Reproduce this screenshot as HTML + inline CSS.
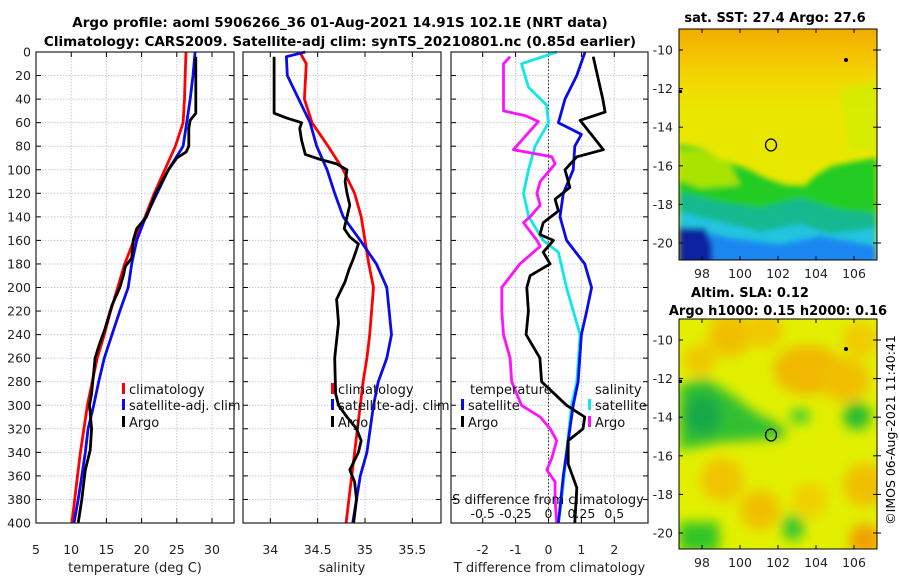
<!DOCTYPE html>
<html><head><meta charset="utf-8"><style>
html,body{margin:0;padding:0;background:#fff;}
svg{display:block;font-family:"DejaVu Sans","Liberation Sans",sans-serif;}
</style></head><body>
<svg id="fig" width="900" height="580" viewBox="0 0 900 580" xmlns="http://www.w3.org/2000/svg">
<defs>
<filter id="blur6" x="-20%" y="-20%" width="140%" height="140%"><feGaussianBlur stdDeviation="6"/></filter>
<filter id="blur3"><feGaussianBlur stdDeviation="3"/></filter>
<clipPath id="clipM1"><rect x="679" y="29" width="198" height="231"/></clipPath>
<clipPath id="clipM2"><rect x="679" y="319" width="198" height="230"/></clipPath>
<linearGradient id="sstTop" x1="0" y1="0" x2="0" y2="1">
<stop offset="0" stop-color="#f2ac00"/><stop offset="0.1" stop-color="#f4c000"/><stop offset="0.22" stop-color="#f2d800"/><stop offset="0.35" stop-color="#eae600"/><stop offset="1" stop-color="#e6ea00"/>
</linearGradient>
</defs>
<text x="340" y="27" text-anchor="middle" font-weight="bold" font-size="13.5">Argo profile: aoml 5906266_36 01-Aug-2021 14.91S 102.1E (NRT data)</text>
<text x="340" y="46" text-anchor="middle" font-weight="bold" font-size="13.5">Climatology: CARS2009. Satellite-adj clim: synTS_20210801.nc (0.85d earlier)</text>

<g>
<g clip-path="url(#clipM1)">
<rect x="679" y="29" width="198" height="231" fill="url(#sstTop)"/>
<g filter="url(#blur3)">
<path d="M679,145 L700,148 L720,160 L745,168 L765,178 L785,185 L805,186 L815,176 L832,166 L852,162 L877,158 L877,270 L679,270Z" fill="#22cc22"/>
<path d="M679,150 L700,150 L730,165 L740,185 L700,188 L679,180Z" fill="#a8e400"/>
<path d="M840,90 L877,80 L877,150 L850,150Z" fill="#cfee00" opacity="0.7"/>
<path d="M679,192 L720,202 L760,208 L800,198 L840,210 L877,214 L877,270 L679,270Z" fill="#14b890"/>
<path d="M679,212 L720,222 L760,232 L800,224 L830,234 L877,228 L877,270 L679,270Z" fill="#20c4e0"/>
<path d="M679,226 L730,238 L780,244 L820,236 L877,246 L877,270 L679,270Z" fill="#1a86f0"/>
<path d="M679,228 L705,228 L712,245 L712,270 L679,270Z" fill="#0820a0"/>
</g>
</g>
<rect x="679" y="29" width="198" height="231" fill="none" stroke="#000" stroke-width="1"/>
<ellipse cx="771" cy="145" rx="5.5" ry="6" fill="none" stroke="#000" stroke-width="1.3"/>
<circle cx="846" cy="60" r="2" fill="#000"/>
<rect x="679" y="90" width="3" height="3" fill="#000"/>
<text x="775" y="22" text-anchor="middle" font-weight="bold" font-size="13">sat. SST: 27.4 Argo: 27.6</text>
</g>

<g>
<g clip-path="url(#clipM2)">
<rect x="679" y="319" width="198" height="230" fill="#e2f000"/>
<g filter="url(#blur6)">
<circle cx="730" cy="335" r="22" fill="#f0c000"/>
<circle cx="765" cy="330" r="18" fill="#f0c800"/>
<circle cx="700" cy="360" r="16" fill="#f0c800"/>
<ellipse cx="808" cy="370" rx="35" ry="25" fill="#f0b800"/>
<ellipse cx="845" cy="380" rx="25" ry="22" fill="#f0c000"/>
<circle cx="860" cy="340" r="18" fill="#f0cc00"/>
<circle cx="722" cy="480" r="22" fill="#f0c400"/>
<circle cx="760" cy="510" r="20" fill="#f0c000"/>
<circle cx="865" cy="485" r="22" fill="#f0c000"/>
<circle cx="865" cy="540" r="16" fill="#f0a000"/>
<circle cx="810" cy="500" r="18" fill="#f0d000"/>
<path d="M679,385 L705,378 L728,392 L755,412 L785,428 L785,438 L755,440 L725,442 L679,450Z" fill="#30c030"/>
<ellipse cx="703" cy="415" rx="18" ry="20" fill="#18a848"/>
<ellipse cx="800" cy="416" rx="10" ry="8" fill="#40cc30"/>
<ellipse cx="857" cy="416" rx="14" ry="14" fill="#28bc30"/>
<rect x="679" y="522" width="40" height="30" fill="#30c428"/>
<ellipse cx="793" cy="528" rx="11" ry="13" fill="#38c430"/>
</g>
</g>
<rect x="679" y="319" width="198" height="230" fill="none" stroke="#000" stroke-width="1"/>
<ellipse cx="771" cy="435" rx="5.5" ry="6" fill="none" stroke="#000" stroke-width="1.3"/>
<circle cx="846" cy="349" r="2" fill="#000"/>
<rect x="679" y="380" width="3" height="3" fill="#000"/>
<text x="750" y="297" text-anchor="middle" font-weight="bold" font-size="13">Altim. SLA: 0.12</text>
<text x="778" y="315" text-anchor="middle" font-weight="bold" font-size="13">Argo h1000: 0.15 h2000: 0.16</text>
</g>
<text transform="translate(895,430) rotate(-90)" text-anchor="middle" font-size="12.5">©IMOS 06-Aug-2021 11:40:41</text>
<g id="plots"></g>
</svg>
<script>
const depthClim = [0,20,40,60,80,100,120,140,160,180,200,220,240,260,280,300,320,340,360,380,400];
const tempClim = [26.3,26.2,26.1,25.9,24.8,23.3,21.8,20.5,18.9,17.6,16.6,15.6,14.7,13.7,13.0,12.3,11.8,11.3,10.9,10.5,10.1];
const tempSat = [27.6,27.3,26.9,26.4,25.9,23.8,22.2,20.6,19.3,18.6,18.1,16.9,15.8,14.7,13.9,13.2,12.4,12.0,11.5,11.0,10.4];
const depthArgoT = [4,52,58,65,80,85,90,100,120,140,150,160,175,182,190,200,215,235,250,260,290,300,320,338,355,380,400];
const tempArgo = [27.7,27.7,26.9,26.7,26.7,26.3,25.0,23.8,22.0,20.7,19.3,18.8,18.6,17.7,17.4,16.9,15.8,14.8,13.9,13.4,12.9,12.6,12.9,12.7,12.0,11.5,11.0];
const salDepthClim = [0,10,40,60,80,100,120,140,160,180,200,240,260,280,300,340,360,400];
const salClim = [34.31,34.38,34.36,34.44,34.61,34.77,34.89,34.96,35.0,35.04,35.09,35.05,35.02,34.98,34.95,34.89,34.86,34.8];
const salDepthSat = [0,4,20,30,40,60,80,100,120,140,160,180,200,240,260,280,300,340,360,400];
const salSat = [34.37,34.17,34.18,34.24,34.3,34.42,34.49,34.6,34.68,34.77,34.95,35.12,35.23,35.28,35.23,35.14,35.09,35.02,34.95,34.87];
const salDepthArgo = [4,52,56,60,65,75,87,91,95,100,110,120,130,140,150,157,163,175,185,195,210,230,260,290,300,310,320,330,340,355,365,380,400];
const salArgo = [34.04,34.04,34.17,34.33,34.31,34.33,34.37,34.52,34.7,34.81,34.79,34.81,34.84,34.81,34.78,34.84,34.93,34.88,34.83,34.79,34.7,34.72,34.68,34.69,34.72,34.81,34.91,34.96,34.93,34.84,34.89,34.91,34.88];
const diffDepthTSat = [0,20,40,60,70,80,100,120,140,160,180,200,220,240,280,300,320,360,400];
const diffTSat = [1.11,0.86,0.5,0.3,1.0,0.8,0.75,0.45,0.35,0.55,1.1,1.31,1.16,1.0,0.9,0.75,0.65,0.45,0.3];
const diffDepthTArgo = [4,40,51,58,83,89,100,115,125,135,145,155,160,170,180,190,200,220,240,260,280,300,310,320,330,350,370,400];
const diffTArgo = [1.36,1.65,1.72,0.96,1.67,0.86,0.5,0.65,0.2,0.3,-0.16,-0.26,0.15,-0.16,0.05,-0.56,-0.66,-0.61,-0.68,-0.26,-0.21,0.55,1.1,1.05,0.6,0.6,0.86,0.8];
const diffDepthSSat = [0,10,30,45,60,80,100,120,140,160,170,200,240,280,300,340,380,400];
const diffSSat = [0.062,-0.205,-0.152,-0.015,0,-0.102,-0.152,-0.19,-0.15,-0.04,0.075,0.137,0.24,0.215,0.175,0.137,0.1,0.075];
const diffDepthSArgo = [4,10,50,54,59,83,89,95,100,110,120,130,140,145,160,165,180,200,220,240,260,280,300,310,320,330,345,355,365,380,400];
const diffSArgo = [-0.292,-0.342,-0.342,-0.177,-0.077,-0.267,0.025,0.05,0.013,-0.063,-0.088,-0.063,-0.14,-0.19,-0.088,-0.063,-0.217,-0.355,-0.355,-0.342,-0.292,-0.28,-0.205,-0.063,0.013,0.062,0.025,-0.013,0.05,0.05,0.062];
const depthTicks = [0,20,40,60,80,100,120,140,160,180,200,220,240,260,280,300,320,340,360,380,400];
const tempTicks = [5,10,15,20,25,30];
const salTicks = [34,34.5,35,35.5];
const salTickLabels = ["34","34.5","35","35.5"];
const diffTicks = [-2,-1,0,1,2];
const sDiffTicks = [-0.5,-0.25,0,0.25,0.5];
const sDiffLabels = ["-0.5","-0.25","0","0.25","0.5"];
const latTicks = [-10,-12,-14,-16,-18,-20];
const lonTicks = [98,100,102,104,106];

const NS = "http://www.w3.org/2000/svg";
const root = document.getElementById('plots');
function mk(tag, attrs, parent){const e=document.createElementNS(NS,tag);for(const k in attrs)e.setAttribute(k,attrs[k]);(parent||root).appendChild(e);return e;}
function txt(str, attrs, parent){const e=mk('text',attrs,parent);e.textContent=str;return e;}

const Y0=52, Y1=523;
const yScale = d => Y0 + d*(Y1-Y0)/400;
const panels = [
  {name:'temperature-panel', x0:36, x1:234, sx:v=>36+(v-5)*7.04, ticks:tempTicks, labels:tempTicks.map(String), title:'temperature (deg C)'},
  {name:'salinity-panel', x0:243, x1:441, sx:v=>270.3+(v-34)*94.7, ticks:salTicks, labels:salTickLabels, title:'salinity'},
  {name:'difference-panel', x0:451, x1:648, sx:v=>548.5+v*32.9, ticks:diffTicks, labels:diffTicks.map(String), title:'T difference from climatology'}
];
panels.forEach((p,pi)=>{
  const g = mk('g',{});
  
  
  depthTicks.forEach(d=>{
    mk('line',{x1:p.x0,x2:p.x1,y1:yScale(d),y2:yScale(d),stroke:'#c4c8e6','stroke-width':1,'stroke-dasharray':'1.5,1.5'},g);
    mk('line',{x1:p.x0,x2:p.x0+5,y1:yScale(d),y2:yScale(d),stroke:'#000'},g);
    mk('line',{x1:p.x1-5,x2:p.x1,y1:yScale(d),y2:yScale(d),stroke:'#000'},g);
  });
  p.ticks.forEach((t,i)=>{
    const x=p.sx(t);
    mk('line',{x1:x,x2:x,y1:Y0,y2:Y1,stroke:'#c4c8e6','stroke-width':1,'stroke-dasharray':'1.5,1.5'},g);
    mk('line',{x1:x,x2:x,y1:Y1-5,y2:Y1,stroke:'#000'},g);
    mk('line',{x1:x,x2:x,y1:Y0,y2:Y0+5,stroke:'#000'},g);
    const l=txt(p.labels[i],{x:x,y:554,'text-anchor':'middle','font-size':12.5,fill:'#222'},g);
    
    
  });
  const at=txt(p.title,{x:(p.x0+p.x1)/2,y:572,'text-anchor':'middle','font-size':13,fill:'#222'},g);
  
  
  p.g=g;
});
depthTicks.forEach(d=>{
  const l=txt(String(d),{x:31,y:yScale(d)+4.5,'text-anchor':'end','font-size':12.5,fill:'#222'});
  
  
});
mk('line',{x1:panels[2].sx(0),x2:panels[2].sx(0),y1:Y0,y2:Y1,stroke:'#333','stroke-width':1,'stroke-dasharray':'1.5,2'},panels[2].g);

function series(p, xs, ds, color, name, conv){
  const pts = xs.map((v,i)=>(conv?p.sx(conv(v)):p.sx(v)).toFixed(1)+','+yScale(ds[i]).toFixed(1)).join(' ');
  const l = mk('polyline',{points:pts,fill:'none',stroke:color,'stroke-width':2.8,'stroke-linejoin':'round'},p.g);
  
  
}
series(panels[0], tempClim, depthClim, '#ff0000', 'temp-climatology-line');
series(panels[0], tempSat, depthClim, '#0a0aee', 'temp-satellite-line');
series(panels[0], tempArgo, depthArgoT, '#000', 'temp-argo-line');
series(panels[1], salClim, salDepthClim, '#ff0000', 'sal-climatology-line');
series(panels[1], salSat, salDepthSat, '#0a0aee', 'sal-satellite-line');
series(panels[1], salArgo, salDepthArgo, '#000', 'sal-argo-line');
const sToT = v=>v*4;
series(panels[2], diffSSat, diffDepthSSat, '#10e8e8', 'sdiff-satellite-line', sToT);
series(panels[2], diffSArgo, diffDepthSArgo, '#ff10ff', 'sdiff-argo-line', sToT);
series(panels[2], diffTSat, diffDepthTSat, '#0a0aee', 'tdiff-satellite-line');
series(panels[2], diffTArgo, diffDepthTArgo, '#000', 'tdiff-argo-line');

panels.forEach(p=>{ mk('rect',{x:p.x0,y:Y0,width:p.x1-p.x0,height:Y1-Y0,fill:'none',stroke:'#222','stroke-width':1.2},p.g); });

const sd = txt('S difference from climatology',{x:548,y:504,'text-anchor':'middle','font-size':13,fill:'#111'},panels[2].g);


sDiffTicks.forEach((t,i)=>{
  const l=txt(sDiffLabels[i],{x:panels[2].sx(t*4),y:518,'text-anchor':'middle','font-size':12.5,fill:'#111'},panels[2].g);
  
  
});

function legend(x, y, color, label, name){
  const g=mk('g',{});
  
  
  if(color) mk('rect',{x:x,y:y-6,width:3,height:11,fill:color},g);
  txt(label,{x:x+7,y:y+5,'font-size':13,fill:'#111'},g);
}
legend(122,389,'#ff0000','climatology','legend-entry-climatology');
legend(122,405,'#0a0aee','satellite-adj. clim','legend-entry-satellite');
legend(122,422,'#000','Argo','legend-entry-argo');
legend(331,389,'#ff0000','climatology','legend-entry-climatology-2');
legend(331,405,'#0a0aee','satellite-adj. clim','legend-entry-satellite-2');
legend(331,422,'#000','Argo','legend-entry-argo-2');
legend(463,389,null,'temperature','legend-header-temperature');
legend(461,405,'#0a0aee','satellite','legend-entry-tsat');
legend(461,422,'#000','Argo','legend-entry-targo');
legend(588,389,null,'salinity','legend-header-salinity');
legend(588,405,'#10e8e8','satellite','legend-entry-ssat');
legend(588,422,'#ff10ff','Argo','legend-entry-sargo');

function mapAxes(top, bottom, latAt, name){
  const g=mk('g',{});
  
  
  const lonX = v=>702+(v-98)*19;
  latTicks.forEach(t=>{
    const y=latAt(t);
    mk('line',{x1:679,x2:683,y1:y,y2:y,stroke:'#000'},g);
    mk('line',{x1:873,x2:881,y1:y,y2:y,stroke:'#000'},g);
    txt(String(t),{x:673,y:y+4.5,'text-anchor':'end','font-size':12.5,fill:'#222'},g);
  });
  lonTicks.forEach(t=>{
    const x=lonX(t);
    mk('line',{x1:x,x2:x,y1:bottom-4,y2:bottom,stroke:'#000'},g);
    mk('line',{x1:x,x2:x,y1:top,y2:top+4,stroke:'#000'},g);
    txt(String(t),{x:x,y:bottom+18,'text-anchor':'middle','font-size':12.5,fill:'#222'},g);
  });
}
mapAxes(29,260,t=>50+(-10-t)*19.3,'sst-map-axes');
mapAxes(319,549,t=>340+(-10-t)*19.3,'sla-map-axes');
</script>
</body></html>
